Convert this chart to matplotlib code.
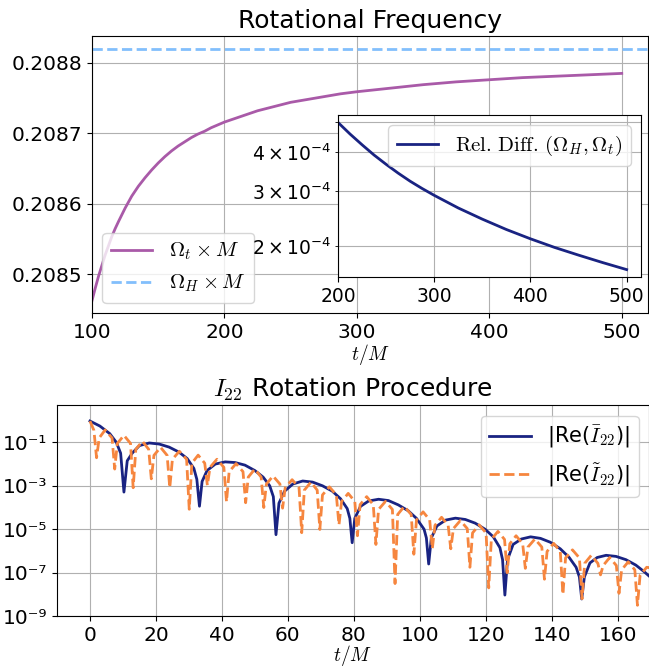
import matplotlib
matplotlib.use("Agg")
import matplotlib.pyplot as plt
import numpy as np
from matplotlib.ticker import FormatStrFormatter, NullLocator

plt.rcParams["mathtext.fontset"] = "cm"
plt.rcParams["font.family"] = ["DejaVu Sans"]

# top panel: rotational frequency
time_top = [100, 102.5, 105, 107.5, 110, 112.5, 115, 117.5, 120, 125, 130,
            135, 140, 145, 150, 155, 160, 165, 170, 175, 180, 185, 190, 200,
            212.5, 225, 237.5, 250, 262.5, 275, 287.5, 300, 325, 350, 375,
            400, 425, 450, 475, 500]
omega_t = [0.208463, 0.208481, 0.208498, 0.208513, 0.208528, 0.208541,
           0.208554, 0.208565, 0.208575, 0.208594, 0.208611, 0.208625,
           0.208637, 0.208648, 0.208658, 0.208667, 0.208675, 0.208682,
           0.208688, 0.208694, 0.208699, 0.208703, 0.208708, 0.208716,
           0.208724, 0.208732, 0.208738, 0.208744, 0.208748, 0.208752,
           0.208756, 0.208759, 0.208764, 0.208769, 0.208773, 0.208776,
           0.208779, 0.208781, 0.208783, 0.208785]
omega_h = 0.20882

# inset: relative difference
time_inset = [200, 212.5, 225, 237.5, 250, 262.5, 275, 287.5, 300, 325,
              350, 375, 400, 425, 450, 475, 500]
rel_diff = [4.99e-4, 4.58e-4, 4.23e-4, 3.92e-4, 3.66e-4, 3.43e-4, 3.23e-4,
            3.06e-4, 2.91e-4, 2.65e-4, 2.44e-4, 2.26e-4, 2.11e-4, 1.98e-4,
            1.87e-4, 1.77e-4, 1.68e-4]

top_xticks = [100, 200, 300, 400, 500]
top_yticks = [0.2085, 0.2086, 0.2087, 0.2088]
inset_xticks = [200, 300, 400, 500]

# bottom panel: |Re(I_bar_22)| (log10 of value)
bar_t = [0, 3, 6, 8, 9.3, 10.3, 11.3, 12.8, 15, 18, 21, 24, 27, 29.5, 31.5,
         32.4, 33.2, 34.0, 35.5, 38, 41, 44, 47, 50, 52.5, 54.5, 55.6, 56.4,
         57.3, 59, 61.5, 64.5, 67.5, 70.5, 73.5, 76, 78, 78.8, 79.5, 80.3,
         82, 84.5, 87.5, 90.5, 93.5, 96.5, 99, 101.3, 102.0, 102.7, 103.5,
         105.2, 107.8, 110.8, 113.8, 116.8, 119.8, 122.3, 124.3, 125.1,
         125.8, 126.6, 128.3, 130.8, 133.6, 136.6, 139.6, 142.6, 145.3,
         147.4, 148.4, 149.1, 149.9, 151.6, 153.8, 156.5, 159.5, 162.5,
         165.5, 168, 171]
bar_log = [-0.02, -0.25, -0.6, -1.0, -1.5, -3.29, -1.85, -1.5, -1.15, -1.03,
           -1.08, -1.22, -1.45, -1.75, -2.2, -2.7, -3.94, -2.8, -2.3, -2.0,
           -1.9, -1.93, -2.05, -2.3, -2.6, -3.0, -3.5, -5.25, -3.8, -3.25,
           -2.92, -2.78, -2.83, -3.0, -3.25, -3.6, -4.05, -4.5, -5.62, -4.5,
           -3.95, -3.7, -3.62, -3.68, -3.88, -4.15, -4.5, -5.0, -5.4, -6.6,
           -5.4, -4.85, -4.58, -4.49, -4.55, -4.72, -5.0, -5.35, -5.85, -6.4,
           -8.03, -6.4, -5.7, -5.45, -5.35, -5.42, -5.6, -5.9, -6.3, -6.75,
           -7.2, -8.21, -7.2, -6.55, -6.3, -6.2, -6.25, -6.4, -6.65, -6.95,
           -7.35]

# bottom panel: |Re(I_tilde_22)| (log10 of value)
tilde_t = [0.0, 1.2, 2.0, 2.8, 4.6,
           6.7, 7.5, 8.3, 10.3,
           12.3, 13.1, 13.9, 15.9,
           17.8, 18.6, 19.4, 21.4,
           23.4, 24.2, 25.0, 27.1,
           29.3, 30.1, 30.9, 32.8,
           34.8, 35.6, 36.4, 38.5,
           40.6, 41.4, 42.2, 44.3,
           46.4, 47.2, 48.0, 50.0,
           51.9, 52.7, 53.5, 55.5,
           57.6, 58.4, 59.2, 61.3,
           63.4, 64.2, 65.0, 67.0,
           68.9, 69.7, 70.5, 72.6,
           74.7, 75.5, 76.3, 78.3,
           80.3, 81.1, 81.9, 83.9,
           85.9, 86.7, 87.5, 89.6,
           91.7, 92.5, 93.3, 95.3,
           97.4, 98.2, 99.0, 101.0,
           103.0, 103.8, 104.6, 106.6,
           108.6, 109.4, 110.2, 112.3,
           114.4, 115.2, 116.0, 118.0,
           120.1, 120.9, 121.7, 123.7,
           125.7, 126.5, 127.3, 129.2,
           131.2, 132.0, 132.8, 134.9,
           137.0, 137.8, 138.6, 140.6,
           142.6, 143.4, 144.2, 146.3,
           148.4, 149.2, 150.0, 152.0,
           154.0, 154.8, 155.6, 157.6,
           159.6, 160.4, 161.2, 163.2,
           165.2, 166.0, 166.8, 168.8, 171]
tilde_log = [-0.02, -0.45, -1.71, -0.8, -0.43,
             -0.8, -2.23, -1.05, -0.68,
             -1.05, -3.09, -1.32, -0.95,
             -1.32, -2.68, -1.6, -1.23,
             -1.6, -3.09, -1.78, -1.41,
             -1.78, -4.08, -1.96, -1.59,
             -1.96, -2.98, -2.15, -1.78,
             -2.15, -3.73, -2.35, -1.98,
             -2.35, -3.78, -2.6, -2.23,
             -2.6, -4.0, -2.92, -2.55,
             -2.92, -4.03, -3.09, -2.72,
             -3.09, -5.16, -3.2, -2.83,
             -3.2, -5.01, -3.42, -3.05,
             -3.42, -4.8, -3.72, -3.35,
             -3.72, -5.3, -3.87, -3.5,
             -3.87, -5.7, -4.09, -3.72,
             -4.09, -7.5, -4.32, -3.95,
             -4.32, -6.15, -4.57, -4.2,
             -4.57, -5.9, -4.82, -4.45,
             -4.82, -5.9, -4.97, -4.6,
             -4.97, -6.75, -5.17, -4.8,
             -5.17, -7.7, -5.47, -5.1,
             -5.47, -7.0, -5.67, -5.3,
             -5.67, -6.8, -5.82, -5.45,
             -5.82, -7.3, -6.02, -5.65,
             -6.02, -8.0, -6.32, -5.95,
             -6.32, -8.2, -6.57, -6.2,
             -6.57, -7.1, -6.67, -6.3,
             -6.67, -7.95, -6.87, -6.5,
             -6.87, -8.5, -7.12, -6.75, -6.8]

bottom_xticks = [0, 20, 40, 60, 80, 100, 120, 140, 160]
bottom_yexp = [-9, -7, -5, -3, -1]

purple = "#a95aa8"
light_blue = "#82bffc"
navy = "#192382"
orange = "#f6863f"

fig = plt.figure(figsize=(6.49, 6.69), dpi=100)

# top axes
ax1 = fig.add_axes([0.1418, 0.532, 0.857, 0.414])
ax1.plot(time_top, omega_t, color=purple, lw=2, label=r"$\Omega_t \times M$")
ax1.axhline(omega_h, color=light_blue, ls="--", lw=2, label=r"$\Omega_H \times M$")
ax1.set_xlim(100, 520)
ax1.set_xticks(top_xticks)
ax1.set_yticks(top_yticks)
ax1.yaxis.set_major_formatter(FormatStrFormatter("%.4f"))
ax1.tick_params(labelsize=14.5)
ax1.set_xlabel(r"$t/M$", fontsize=14, labelpad=0)
ax1.set_title("Rotational Frequency", fontsize=18)
ax1.grid(True)
ax1.legend(loc="lower left", fontsize=15)

# inset
ax_in = fig.add_axes([0.5208, 0.586, 0.467, 0.242])
ax_in.plot(time_inset, rel_diff, color=navy, lw=2,
           label=r"$\mathrm{Rel.\,Diff.}\,(\Omega_H, \Omega_t)$")
ax_in.set_yscale("log")
ax_in.set_xlim(200, 515)
ax_in.set_xticks(inset_xticks)
ax_in.tick_params(which="both", labelsize=13.5)
ax_in.grid(True, which="both")
ax_in.legend(loc="upper right", fontsize=15)

# bottom axes
ax2 = fig.add_axes([0.0878, 0.079, 0.9122, 0.315])
ax2.plot(bar_t, 10.0 ** np.array(bar_log), color=navy, lw=2,
         label=r"|Re($\bar{I}_{22}$)|")
ax2.plot(tilde_t, 10.0 ** np.array(tilde_log), color=orange, ls="--", lw=2,
         label=r"|Re($\tilde{I}_{22}$)|")
ax2.set_yscale("log")
ax2.set_xlim(-10, 169.5)
ax2.set_ylim(1e-9, 5)
ax2.set_xticks(bottom_xticks)
sup = str.maketrans("-0123456789", "\u207b\u2070\u00b9\u00b2\u00b3\u2074\u2075\u2076\u2077\u2078\u2079")
ax2.set_yticks([10.0 ** e for e in bottom_yexp],
               ["10" + str(e).translate(sup) for e in bottom_yexp])
ax2.yaxis.set_minor_locator(NullLocator())
ax2.tick_params(labelsize=14.5)
ax2.set_xlabel(r"$t/M$", fontsize=14, labelpad=-1)
ax2.set_title(r"$I_{22}$ Rotation Procedure", fontsize=18)
ax2.grid(True)
ax2.legend(loc="upper right", fontsize=15)

fig.savefig("out.png", dpi=100)
